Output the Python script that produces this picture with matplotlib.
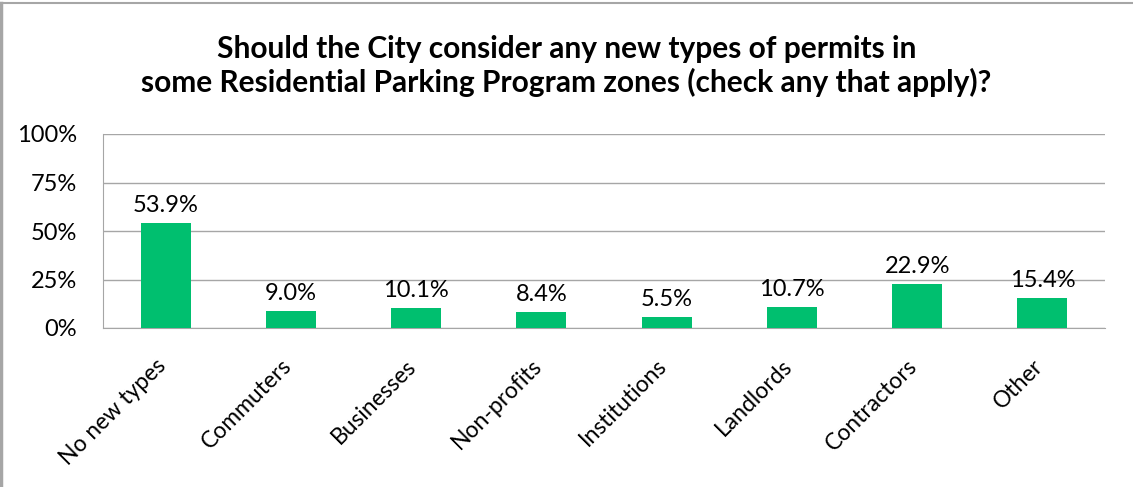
import matplotlib
matplotlib.use("Agg")
import matplotlib.pyplot as plt
import matplotlib.transforms as mtransforms
from matplotlib.lines import Line2D

categories = ["No new types", "Commuters", "Businesses", "Non-profits",
              "Institutions", "Landlords", "Contractors", "Other"]
values = [53.9, 9.0, 10.1, 8.4, 5.5, 10.7, 22.9, 15.4]
yticks = [0, 25, 50, 75, 100]

plt.rcParams['font.family'] = ['Lato', 'DejaVu Sans']

W, H = 1133, 487
fig = plt.figure(figsize=(W / 100, H / 100), dpi=100)
# plot area in pixel coords: left 103, right 1105, top 134, bottom 328
ax = fig.add_axes([103 / W, 1 - 328 / H, (1105 - 103) / W, (328 - 134) / H])

x = range(len(categories))
ax.bar(x, values, width=0.4, color='#00BF6F', zorder=3)
for xi, v in zip(x, values):
    ax.annotate(f"{v:.1f}%", (xi, v), xytext=(0, 5), textcoords='offset points',
                ha='center', va='bottom', fontsize=17, color='#000000')

ax.set_xlim(-0.5, len(categories) - 0.5)
ax.set_ylim(0, 100)
ax.set_yticks(yticks)
ax.set_yticklabels([f"{t}%" for t in yticks], fontsize=17)
ax.set_xticks(list(x))
ax.set_xticklabels(categories, rotation=45, ha='right', va='center',
                   rotation_mode='anchor', fontsize=16.5)
ax.tick_params(axis='y', length=0, pad=18.5)
ax.tick_params(axis='x', length=0, pad=25)
shift = mtransforms.ScaledTranslation(-3 / 100, 0, fig.dpi_scale_trans)
for lbl in ax.get_xticklabels():
    lbl.set_transform(lbl.get_transform() + shift)
ax.grid(axis='y', color='#A6A6A6', linewidth=1, zorder=0)
for side in ['top', 'right']:
    ax.spines[side].set_visible(False)
ax.spines['left'].set_color('#A6A6A6')
ax.spines['bottom'].set_color('#A6A6A6')

fig.text(0.5, 1 - 66 / H,
         "Should the City consider any new types of permits in\n"
         "some Residential Parking Program zones (check any that apply)?",
         ha='center', va='center', fontsize=21.5, fontweight='bold', linespacing=1.22)

# outer chart border (only top and left visible)
fig.add_artist(Line2D([1 / W, 1 / W], [0, 1 - 3 / H], color='#A6A6A6', linewidth=2.5,
                      transform=fig.transFigure))
fig.add_artist(Line2D([0, 1], [1 - 3 / H, 1 - 3 / H], color='#A6A6A6', linewidth=1.5,
                      transform=fig.transFigure))

fig.savefig("out.png", dpi=100)
plt.close(fig)
